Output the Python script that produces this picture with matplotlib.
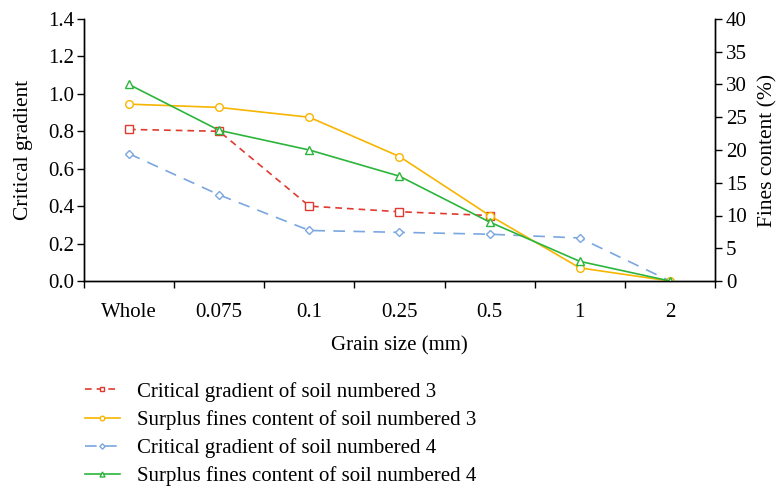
import matplotlib
matplotlib.use('Agg')
import matplotlib.pyplot as plt
import numpy as np

plt.rcParams['font.family'] = 'serif'
plt.rcParams['font.serif'] = ['Liberation Serif', 'DejaVu Serif']

# ─── Data ────
sizes = ['Whole', '0.075', '0.1', '0.25', '0.5', '1', '2']
grad_soil3 = [0.81, 0.80, 0.40, 0.37, 0.35]          # ends at 0.5 mm
grad_soil4 = [0.68, 0.46, 0.27, 0.26, 0.25, 0.23, 0.0]
fines_soil3 = [27.0, 26.5, 25.0, 19.0, 10.0, 2.0, 0.0]
fines_soil4 = [30.0, 23.0, 20.0, 16.0, 9.0, 3.0, 0.0]

red, gold, blue, green = '#e03a2f', '#f7b500', '#7aa7e0', '#2cb53c'
fs = 15

fig = plt.figure(figsize=(7.82, 4.93), dpi=100)
ax = fig.add_axes([84 / 782, 1 - 281 / 493, 631 / 782, 262 / 493])
ax2 = ax.twinx()

x = np.arange(len(sizes))
l1, = ax.plot(x[:len(grad_soil3)], grad_soil3, color=red, ls=(0, (4, 3)), lw=1.2,
              marker='s', ms=5.5, mfc='white', mec=red, mew=1.0,
              label='Critical gradient of soil numbered 3')
l3, = ax.plot(x, grad_soil4, color=blue, ls=(0, (7, 5)), lw=1.2,
              marker='D', ms=4.5, mfc='white', mec=blue, mew=1.0,
              label='Critical gradient of soil numbered 4')
l2, = ax2.plot(x, fines_soil3, color=gold, ls='-', lw=1.2,
               marker='o', ms=5.5, mfc='white', mec=gold, mew=1.0,
               label='Surplus fines content of soil numbered 3')
l4, = ax2.plot(x, fines_soil4, color=green, ls='-', lw=1.2,
               marker='^', ms=6, mfc='white', mec=green, mew=1.0,
               label='Surplus fines content of soil numbered 4')

ax.set_xlim(-0.5, len(sizes) - 0.5)
ax.set_ylim(0, 1.4)
ax2.set_ylim(0, 40)
ax.set_yticks(np.arange(0, 1.41, 0.2))
ax.set_yticklabels([f'{v:.1f}' for v in np.arange(0, 1.41, 0.2)])
ax2.set_yticks(np.arange(0, 41, 5))

ax.set_xticks(x)
ax.set_xticklabels(sizes)
ax.set_xticks(np.arange(-0.5, len(sizes), 1.0), minor=True)
ax.tick_params(axis='x', which='major', length=0, pad=16, labelsize=fs)
ax.tick_params(axis='x', which='minor', length=5, direction='out', width=1)
ax.tick_params(axis='y', length=5, width=1, labelsize=fs, pad=2)
ax2.tick_params(axis='y', length=5, width=1, labelsize=fs, pad=3)

for a in (ax, ax2):
    a.spines['top'].set_visible(False)
    for s in ('left', 'right', 'bottom'):
        a.spines[s].set_linewidth(1.0)

ax.set_xlabel('Grain size (mm)', fontsize=fs, labelpad=10)
ax.set_ylabel('Critical gradient', fontsize=fs + 0.5, labelpad=11)
ax2.set_ylabel('Fines content (%)', fontsize=fs + 0.5, labelpad=8)

fig.legend(handles=[l1, l2, l3, l4], loc='upper left',
           bbox_to_anchor=(66 / 782, 1 - 363 / 493), frameon=False,
           fontsize=fs, handlelength=1.7, handletextpad=0.8,
           labelspacing=0.4, markerscale=0.6)

plt.savefig('out.png', dpi=100)
